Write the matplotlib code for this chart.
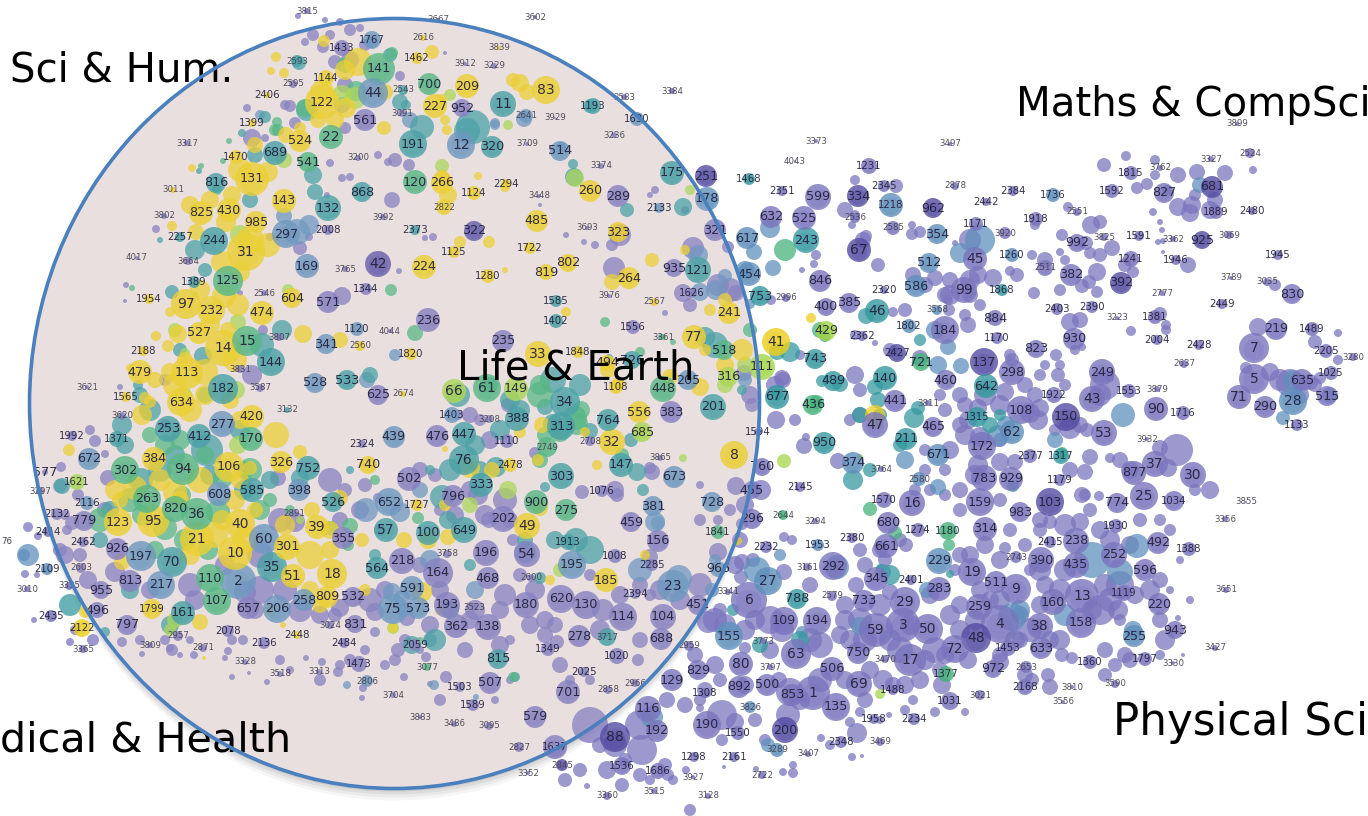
import matplotlib
matplotlib.use('Agg')
import matplotlib.pyplot as plt
from matplotlib.patches import Ellipse

# (label, x, y, radius, colour key), pixel coordinates
sci_hum = [
 (3815,307,11,3,'p'),(1767,372,40,9,'b'),(1433,342,48,8,'p'),(2616,423,38,3,'y'),(1462,417,58,6,'y'),
 (141,379,69,16,'g'),(2593,297,61,6,'t'),(1144,326,78,8,'y'),(2595,293,84,4,'p'),(2543,403,90,5,'t'),
 (700,429,84,11,'g'),(44,373,93,15,'b'),(2406,267,95,3,'y'),(122,322,102,17,'y'),(227,435,106,12,'y'),
 (3091,402,113,4,'p'),(561,365,120,11,'p'),(1399,252,123,4,'y'),(22,331,137,12,'g'),(524,300,141,11,'y'),
 (191,413,144,14,'t'),(3317,187,143,3,'p'),(689,275,153,12,'t'),(1470,236,157,7,'y'),(541,308,162,10,'g'),
 (3200,358,158,3,'p'),(131,252,179,17,'y'),(816,216,183,10,'t'),(120,415,182,12,'g'),(266,442,183,11,'y'),
 (3011,173,190,3,'y'),(868,362,192,10,'t'),(143,284,201,12,'y'),(132,328,208,13,'t'),(2822,444,207,8,'y'),
 (3802,164,216,3,'p'),(825,201,213,12,'y'),(430,229,210,12,'y'),(3992,383,217,3,'p'),(985,256,222,11,'y'),
 (2008,328,230,5,'p'),(2373,415,230,5,'t'),(2257,180,237,5,'t'),(297,286,234,14,'b'),(244,214,241,14,'t'),
 (31,246,252,19,'y'),(4017,137,258,2,'p'),(3664,188,261,4,'p'),(169,307,266,12,'b'),(3765,345,269,3,'p'),
 (42,378,264,13,'d'),(224,424,267,12,'y'),(1389,194,282,6,'t'),(125,228,281,15,'g'),(1344,366,289,6,'p'),
 (2546,264,293,3,'p'),(604,292,298,10,'y'),(571,328,302,11,'p'),(1954,149,299,5,'y'),(97,186,304,15,'y'),
 (232,211,310,14,'y'),(474,262,313,12,'y'),(236,428,320,12,'p'),(527,199,333,11,'y'),(1120,357,329,7,'b'),
 (4044,390,331,2,'p'),(3807,279,337,4,'p'),(14,223,348,18,'y'),(15,247,341,15,'g'),(341,326,344,10,'b'),
 (2560,360,346,5,'y'),(1820,411,354,6,'y'),(2188,143,351,5,'y'),(144,271,362,14,'t'),(479,140,372,12,'y'),
 (113,187,373,16,'y'),(3831,240,369,4,'p'),(182,223,389,15,'t'),(3587,260,388,4,'p'),(528,315,383,10,'b'),
 (533,347,380,10,'t'),(3621,87,387,2,'p'),(1565,126,397,5,'y'),(634,181,402,14,'y'),(625,378,395,10,'p'),
 (2674,403,394,3,'y'),
]
medical = [
 (3620,122,416,4,'p'),(3132,287,410,3,'t'),(277,222,424,13,'b'),(420,252,417,12,'y'),(253,168,429,13,'t'),
 (412,199,436,12,'t'),(1992,72,436,5,'p'),(1371,117,439,8,'t'),(170,251,439,12,'g'),(2324,362,444,4,'p'),
 (439,394,437,11,'b'),(476,437,436,11,'p'),(672,89,459,11,'b'),(384,154,459,12,'y'),(326,281,462,11,'y'),
 (752,308,468,12,'t'),(740,368,465,9,'y'),(302,125,470,14,'g'),(94,183,469,16,'g'),(106,229,467,15,'y'),
 (577,45,472,3,'p'),(1621,77,482,8,'l'),(3297,40,491,4,'p'),(608,219,494,12,'b'),(585,252,490,12,'t'),
 (398,299,490,11,'b'),(502,409,479,12,'p'),(263,147,499,14,'g'),(2116,87,503,7,'b'),(526,333,502,10,'t'),
 (652,389,502,14,'b'),(1727,417,505,6,'y'),(2132,57,514,6,'p'),(820,175,509,13,'g'),(36,197,514,16,'g'),
 (2891,294,513,4,'p'),(779,84,521,10,'p'),(123,118,522,14,'y'),(95,153,521,16,'y'),(40,240,524,15,'y'),
 (39,317,527,12,'y'),(57,386,530,12,'t'),(2414,48,532,5,'p'),(21,197,539,17,'y'),(60,264,539,15,'b'),
 (355,343,538,11,'p'),(100,428,533,12,'t'),(2462,83,542,5,'p'),(926,117,549,11,'p'),(197,141,556,15,'b'),
 (301,287,547,13,'y'),(10,235,553,17,'y'),(70,172,562,15,'t'),(3758,447,554,4,'p'),(218,402,561,13,'p'),
 (564,377,568,11,'t'),(2109,47,569,6,'b'),(2603,81,568,5,'p'),(35,272,567,15,'t'),(51,293,576,12,'y'),
 (18,332,574,15,'y'),(164,438,573,15,'p'),(813,130,581,11,'p'),(110,210,578,14,'g'),(2,238,581,18,'b'),
 (217,161,585,14,'b'),(3010,27,589,3,'p'),(3335,69,586,4,'p'),(955,101,590,9,'p'),(591,412,588,12,'b'),
 (107,217,601,14,'g'),(258,304,600,11,'b'),(809,327,597,11,'y'),(532,353,597,10,'p'),(657,248,608,11,'p'),
 (206,277,609,14,'b'),(75,393,609,15,'b'),(573,418,608,11,'b'),(193,447,605,13,'p'),(496,97,610,8,'p'),
 (1799,152,609,10,'y'),(161,183,613,12,'t'),(2435,51,616,6,'p'),(797,127,625,10,'p'),(831,355,624,9,'p'),
 (3024,330,625,4,'p'),(2122,82,628,9,'y'),(2078,228,631,6,'p'),(2957,178,636,5,'p'),(2448,297,635,4,'y'),
 (2484,344,643,5,'p'),(2136,264,643,6,'p'),(3809,150,645,3,'p'),(2871,203,648,4,'p'),(2059,415,645,6,'p'),
 (3365,83,649,4,'p'),(3328,245,662,3,'p'),(1473,359,664,8,'p'),(3077,427,667,4,'g'),(3518,280,674,3,'p'),
 (3313,319,672,3,'p'),(2806,367,681,6,'b'),(3704,393,695,3,'p'),(3883,420,717,2,'p'),
]
life_earth = [
 (3667,438,20,2,'p'),(3602,535,17,2,'p'),(3839,499,48,2,'y'),(3912,465,64,2,'p'),(3229,494,66,3,'p'),
 (209,467,86,12,'y'),(83,546,90,14,'y'),(952,462,108,9,'p'),(11,503,104,13,'t'),(1193,593,106,8,'t'),
 (3583,624,97,3,'p'),(3384,672,91,3,'p'),(2641,526,116,7,'b'),(3929,555,118,1,'p'),(1630,637,119,7,'b'),
 (12,461,145,14,'b'),(320,492,147,11,'t'),(3709,527,144,2,'p'),(3236,614,135,3,'p'),(514,560,151,10,'b'),
 (3374,601,166,3,'p'),(175,672,173,12,'t'),(251,706,176,11,'d'),(2294,506,184,5,'y'),(260,590,191,11,'y'),
 (289,618,196,11,'p'),(1124,474,193,7,'y'),(3448,539,196,2,'p'),(178,707,199,12,'b'),(2133,659,208,5,'b'),
 (485,537,221,11,'y'),(3693,587,228,2,'p'),(323,618,232,10,'y'),(322,474,231,10,'d'),(321,715,230,11,'p'),
 (1722,530,248,6,'y'),(1125,454,252,6,'y'),(802,568,263,9,'y'),(819,546,272,8,'y'),(935,674,268,9,'p'),
 (121,698,270,13,'t'),(1280,488,276,7,'y'),(264,629,278,11,'y'),(1626,692,293,5,'p'),(3976,609,296,2,'p'),
 (1585,556,301,6,'t'),(2567,654,302,4,'y'),(241,729,313,11,'y'),(1402,556,321,7,'t'),(1556,633,327,7,'p'),
 (77,694,337,12,'y'),(3361,663,337,3,'g'),(235,503,341,11,'p'),(518,724,350,10,'g'),(33,538,354,13,'y'),
 (1848,578,352,6,'y'),(726,632,360,9,'t'),(494,607,363,8,'y'),(316,728,377,10,'l'),(205,688,380,10,'b'),
 (66,454,391,12,'l'),(61,487,388,14,'g'),(149,516,389,12,'l'),(1108,616,387,7,'y'),(448,663,389,13,'g'),
 (34,565,402,15,'t'),(201,713,407,13,'t'),(1403,452,415,8,'b'),(3208,489,419,4,'p'),(388,517,419,12,'t'),
 (556,639,412,11,'y'),(383,671,412,11,'p'),(764,608,420,11,'t'),(313,561,426,14,'t'),(685,642,432,10,'l'),
 (1594,758,432,4,'p'),(447,464,434,12,'t'),(1110,507,441,7,'p'),(2749,547,447,10,'g'),(2708,590,441,5,'p'),
 (32,612,442,13,'y'),(8,734,455,14,'y'),(76,464,460,15,'t'),(2478,510,465,7,'y'),(3865,660,458,3,'p'),
 (147,621,465,12,'t'),(760,762,467,9,'p'),(303,561,476,13,'t'),(673,674,477,11,'b'),(333,481,485,12,'t'),
 (1076,602,491,6,'p'),(455,752,490,9,'p'),(796,453,496,11,'p'),(900,536,502,12,'g'),(275,566,510,11,'g'),
 (381,653,506,10,'b'),(728,712,502,10,'b'),(202,503,519,13,'p'),(49,527,526,13,'y'),(459,631,522,10,'p'),
 (649,464,530,13,'t'),(1841,718,532,7,'g'),(1913,568,542,8,'t'),(156,658,541,11,'p'),(196,486,553,13,'p'),
 (54,527,554,13,'p'),(1008,615,556,7,'p'),(195,572,565,14,'b'),(2285,652,565,6,'p'),(468,488,578,11,'p'),
 (2600,531,578,4,'p'),(185,606,580,12,'y'),(23,673,586,16,'b'),(966,718,569,8,'b'),(620,561,599,14,'p'),
 (2394,635,594,5,'p'),(180,526,605,13,'p'),(130,586,605,14,'p'),(3523,474,607,4,'p'),(451,698,605,10,'p'),
 (114,623,617,14,'p'),(104,663,617,13,'p'),(362,456,626,12,'p'),(138,488,627,13,'p'),(278,579,636,11,'p'),
 (3717,607,637,9,'t'),(688,661,639,11,'p'),(1349,548,649,7,'p'),(815,498,659,10,'t'),(1020,617,656,8,'p'),
 (2025,584,672,5,'p'),(507,490,683,11,'p'),(1503,460,687,5,'p'),(2858,608,690,4,'p'),(2966,635,683,4,'p'),
 (701,568,692,12,'p'),(1589,473,705,6,'p'),(579,535,717,11,'p'),(3486,454,724,3,'p'),(3095,489,726,4,'p'),
 (2827,519,747,5,'p'),(1637,555,747,12,'p'),
]
lower_mid = [
 (129,672,680,11,'p'),(116,648,709,13,'p'),(192,657,731,11,'p'),(88,615,737,15,'d'),(2845,562,765,6,'d'),
 (3352,528,773,2,'p'),(1536,622,766,9,'p'),(1686,658,771,8,'p'),(3515,654,791,3,'p'),(3360,607,796,4,'p'),
 (3128,708,796,3,'p'),(3927,693,777,2,'p'),(1298,694,757,5,'p'),(2161,734,757,5,'p'),(2722,762,775,4,'p'),
 (3289,777,750,7,'b'),(3407,808,754,3,'p'),(200,785,730,13,'d'),(1550,738,733,7,'p'),(190,707,725,14,'p'),
 (3826,750,707,6,'b'),(1308,705,693,5,'p'),(892,739,687,11,'p'),(500,767,685,11,'p'),(853,792,695,11,'p'),
 (1,813,693,17,'p'),(135,836,707,14,'p'),(829,698,670,10,'p'),(80,741,664,12,'p'),(3797,770,667,3,'p'),
 (506,832,669,12,'p'),(2959,689,646,5,'p'),(155,729,636,14,'b'),(3773,763,641,3,'p'),(63,796,654,15,'p'),
 (109,784,621,14,'p'),(194,817,621,14,'p'),(6,749,600,18,'p'),(788,797,599,10,'t'),(27,768,581,14,'b'),
 (3341,728,592,3,'p'),(2232,766,547,6,'p'),(3161,807,567,4,'p'),(292,833,566,14,'p'),(2145,800,487,5,'p'),
 (296,752,519,10,'p'),(2644,783,515,5,'g'),(950,824,443,11,'t'),(677,777,397,12,'t'),(111,762,367,13,'l'),
 (41,776,342,14,'y'),(2996,786,298,4,'p'),(753,760,296,10,'t'),(454,749,274,12,'b'),(617,747,238,11,'b'),
 (632,771,217,11,'p'),(2351,782,191,5,'p'),(1468,749,179,6,'t'),
]
maths = [
 (3373,816,141,2,'p'),(4043,795,161,1,'p'),(3497,950,144,2,'p'),(3899,1237,124,2,'p'),(2524,1250,153,5,'p'),
 (3327,1211,159,3,'p'),(1231,869,166,8,'p'),(3762,1160,168,3,'p'),(1815,1131,173,7,'p'),(2345,884,186,6,'p'),
 (2878,955,186,4,'p'),(681,1212,187,11,'d'),(2384,1013,191,5,'p'),(1736,1053,195,7,'b'),(1592,1112,191,7,'p'),
 (827,1164,193,10,'p'),(599,818,197,13,'p'),(334,858,196,11,'d'),(2442,986,202,4,'p'),(1218,891,205,12,'b'),
 (962,933,208,10,'d'),(2551,1077,212,4,'p'),(1889,1216,212,7,'p'),(2480,1252,211,4,'p'),(525,804,218,12,'p'),
 (2536,855,218,5,'p'),(2585,893,228,7,'p'),(1918,1036,219,7,'p'),(1171,976,224,7,'p'),(354,937,234,10,'b'),
 (243,806,240,13,'t'),(3825,1104,237,4,'p'),(1591,1139,236,5,'p'),(3920,1005,233,6,'p'),(3362,1173,239,3,'p'),
 (925,1202,240,9,'d'),(3069,1229,235,4,'p'),(992,1077,243,9,'p'),(67,859,250,12,'d'),(1260,1012,255,7,'b'),
 (1945,1278,255,5,'p'),(1241,1131,259,8,'p'),(1946,1176,260,5,'p'),(45,975,259,12,'p'),(512,929,263,10,'b'),
 (2511,1045,268,8,'p'),(382,1071,275,11,'p'),(3789,1231,278,2,'p'),(846,820,281,11,'p'),(392,1121,283,11,'d'),
 (3035,1267,282,4,'p'),(586,916,286,11,'b'),(99,964,290,13,'p'),(2320,884,290,4,'p'),(1868,1002,290,6,'t'),
 (2777,1162,293,3,'p'),(830,1292,294,10,'p'),(2449,1222,304,5,'p'),(2403,1057,309,6,'p'),(2390,1092,307,6,'p'),
 (385,849,303,10,'p'),(400,826,307,9,'p'),(46,877,311,12,'t'),(3568,937,310,5,'b'),(3223,1117,318,2,'p'),
 (1381,1155,317,7,'p'),(884,995,318,8,'p'),(219,1276,329,11,'p'),(1489,1312,329,7,'p'),(1802,909,326,7,'b'),
 (184,945,330,14,'p'),(429,826,331,10,'l'),(2362,862,336,5,'p'),(1170,997,338,6,'p'),(930,1074,339,11,'p'),
 (2004,1157,340,5,'p'),(2428,1199,345,5,'p'),(7,1254,348,15,'p'),(823,1036,349,9,'p'),(2427,897,353,9,'d'),
 (137,984,362,14,'d'),(2637,1184,364,4,'p'),(2205,1326,351,7,'p'),(3280,1353,357,4,'p'),(721,921,362,9,'g'),
 (743,815,359,10,'t'),(298,1012,372,13,'p'),(249,1102,372,13,'p'),(1025,1331,373,7,'p'),(140,885,378,12,'t'),
 (5,1254,379,15,'p'),(635,1302,380,11,'p'),(489,833,381,10,'t'),(460,946,380,10,'p'),(642,986,386,12,'t'),
 (1553,1129,391,7,'p'),(3879,1157,389,3,'p'),(1922,1054,395,8,'p'),(71,1239,397,12,'p'),(515,1327,396,10,'p'),
 (43,1092,399,13,'p'),(28,1293,401,14,'b'),(441,895,401,11,'p'),(3811,928,403,3,'p'),(436,813,405,10,'g'),
 (290,1265,407,11,'p'),(90,1156,409,12,'p'),(108,1021,410,14,'p'),(1716,1183,413,7,'p'),(1315,977,417,10,'t'),
 (150,1066,417,14,'d'),(47,875,425,13,'p'),(1133,1297,425,6,'p'),(465,933,427,10,'p'),(62,1012,432,12,'b'),
 (53,1104,433,13,'p'),
]
physical = [
 (211,906,439,11,'t'),(172,982,446,14,'p'),(3932,1147,439,2,'p'),(671,938,455,11,'b'),(2377,1030,456,7,'p'),
 (1317,1061,456,8,'t'),(37,1155,464,13,'p'),(374,853,463,11,'b'),(3764,881,469,3,'p'),(30,1193,475,13,'p'),
 (877,1134,473,12,'p'),(783,984,478,13,'p'),(929,1011,479,12,'p'),(2580,919,479,7,'b'),(1179,1060,480,6,'p'),
 (25,1144,496,14,'p'),(1034,1174,501,10,'p'),(3855,1246,502,1,'p'),(1570,884,500,8,'p'),(16,912,503,13,'p'),
 (159,980,502,14,'p'),(103,1050,502,14,'d'),(774,1117,503,10,'p'),(983,1020,512,10,'p'),(3294,815,521,3,'p'),
 (3356,1225,519,3,'p'),(680,888,523,11,'p'),(1274,918,530,7,'p'),(1180,948,531,9,'g'),(314,985,529,12,'p'),
 (1930,1116,526,7,'p'),(2380,852,538,5,'p'),(661,886,546,12,'p'),(1953,818,545,6,'b'),(2415,1050,542,6,'p'),
 (238,1076,541,13,'p'),(492,1158,543,11,'p'),(1388,1189,549,7,'p'),(252,1114,555,13,'p'),(390,1041,560,13,'p'),
 (2743,1016,557,6,'p'),(229,939,561,13,'b'),(435,1076,565,13,'p'),(596,1145,570,11,'p'),(19,972,572,14,'p'),
 (2401,911,580,5,'p'),(345,876,579,12,'p'),(511,996,582,11,'p'),(9,1016,589,15,'p'),(283,939,589,12,'p'),
 (1119,1124,593,8,'p'),(3651,1226,590,3,'p'),(13,1082,596,17,'p'),(2579,832,596,5,'p'),(160,1053,602,13,'p'),
 (29,905,602,15,'p'),(733,864,601,11,'p'),(220,1159,604,11,'p'),(259,979,607,13,'p'),(3,903,625,17,'p'),
 (4,1000,624,19,'p'),(158,1081,623,15,'p'),(38,1040,626,13,'p'),(59,876,630,17,'p'),(50,928,629,15,'p'),
 (943,1175,630,9,'p'),(255,1134,636,11,'b'),(48,976,638,15,'d'),(3427,1215,648,3,'p'),(1453,1008,648,8,'p'),
 (633,1041,648,11,'p'),(72,955,649,14,'p'),(750,858,653,11,'p'),(1797,1145,659,7,'p'),(3470,885,659,4,'p'),
 (17,910,660,16,'p'),(1360,1090,662,7,'p'),(3330,1173,663,2,'p'),(972,993,669,9,'p'),(2653,1026,667,6,'p'),
 (1377,946,674,8,'g'),(69,859,684,13,'p'),(3590,1115,684,4,'p'),(2168,1025,687,8,'p'),(3810,1072,687,2,'p'),
 (1488,893,690,5,'p'),(3021,980,695,5,'p'),(3556,1063,702,2,'p'),(1031,950,701,9,'p'),(1958,874,719,5,'p'),
 (2234,914,719,6,'p'),(2348,841,742,6,'p'),(3469,880,742,4,'p'),
]

# bubbles without a number, (x, y, radius)
extra_yellow = [
 (276,57,5),(271,71,4),(284,73,5),(324,41,6),(358,62,14),(345,70,10),(432,52,7),(322,92,12),(335,120,9),
 (318,120,8),(384,128,7),(346,108,10),(385,92,8),(300,128,6),(255,145,8),(286,135,8),(192,168,4),(240,170,12),
 (268,172,10),(232,195,9),(190,205,9),(210,200,9),(172,226,5),(196,232,8),(226,222,10),(250,240,14),(268,245,12),
 (222,262,11),(240,272,10),(200,290,10),(224,296,12),(238,305,11),(170,312,5),(178,334,9),(156,336,5),(168,346,6),
 (210,325,10),(228,330,8),(303,334,9),(340,340,8),(185,360,8),(170,372,9),(205,372,13),(235,360,12),(130,368,4),
 (155,380,8),(205,395,10),(230,400,9),(145,398,6),(175,385,12),(142,415,10),(150,402,6),(190,410,12),(240,420,9),
 (276,435,13),(69,450,6),(300,452,7),(200,480,13),(240,480,9),(250,468,7),(160,480,11),(115,490,10),(135,488,12),
 (175,492,12),(120,500,8),(340,498,8),(235,500,10),(255,510,8),(180,500,9),(215,535,13),(190,555,10),(222,520,10),
 (245,540,13),(285,525,10),(312,510,8),(330,530,9),(310,555,14),(330,550,9),(122,562,8),(362,540,7),(310,590,9),
 (320,605,8),(365,590,6),(404,540,8),(428,540,9),(422,592,10),(393,628,5),(85,612,6),(200,622,8),(448,537,8),
 (204,658,2),(283,625,3),(520,83,9),(513,80,7),(527,92,8),(447,130,5),(478,176,4),(448,195,9),(505,187,5),
 (489,242,6),(460,242,6),(505,270,3),(652,260,7),(612,282,8),(685,250,5),(710,310,6),(725,300,7),(566,312,5),
 (705,350,6),(742,350,11),(700,387,9),(618,384,7),(670,377,8),(538,460,6),(585,432,5),(520,432,6),(542,425,8),
 (445,449,3),(540,508,8),(597,465,5),(470,468,10),(492,470,8),(441,100,6),(445,505,6),(550,580,5),(645,555,5),
 (738,541,4),(442,178,8),(445,120,5),(670,375,3),(608,370,8),(725,365,9),(875,415,10),(811,318,5),
]
extra_lime = [
 (450,95,6),(441,104,6),(342,95,10),(355,98,11),(442,166,7),(284,160,8),(288,290,6),(240,235,10),(175,330,7),
 (185,353,5),(238,322,8),(238,445,9),(184,395,8),(236,390,9),(300,520,4),(270,610,6),(175,620,8),(170,630,6),
 (508,125,5),(575,178,9),(690,190,5),(725,385,8),(745,365,8),(508,490,9),(560,570,7),(642,432,7),(683,458,4),
 (784,461,7),(860,457,3),(440,610,5),(470,505,8),(393,628,6),(880,694,5),(877,424,5),
]
extra_green = [
 (392,53,6),(356,91,10),(345,65,8),(305,108,9),(277,122,5),(229,141,3),(201,166,3),(223,161,3),(275,130,6),
 (217,190,5),(391,290,6),(415,333,8),(278,130,6),(195,295,3),(132,288,3),(205,395,8),(150,435,8),(180,440,10),
 (205,455,9),(165,445,10),(250,470,12),(270,500,7),(223,478,10),(182,495,9),(130,500,12),(100,520,12),(142,515,10),
 (218,512,12),(260,510,10),(165,528,12),(155,550,9),(185,540,11),(208,550,10),(245,470,9),(290,510,5),(350,526,8),
 (330,528,7),(348,545,6),(420,641,4),(375,480,5),(418,518,6),(605,322,5),(640,352,5),(673,342,3),
 (581,410,9),(575,418,12),(540,395,13),(540,460,8),(513,677,5),(750,330,7),(785,250,11),(540,385,10),(820,330,8),
 (870,509,7),(895,533,7),(949,545,6),(817,402,7),(1062,453,6),(622,455,7),(577,424,11),(560,432,10),(545,435,8),
]
extra_teal = [
 (299,63,7),(390,55,7),(307,110,11),(400,102,8),(422,127,12),(406,105,5),(265,117,6),(242,133,4),(255,155,8),
 (313,175,9),(315,192,8),(199,171,3),(160,240,3),(195,250,10),(172,292,7),(205,270,7),(250,200,8),(282,330,10),
 (138,385,5),(262,345,12),(370,375,8),(203,356,9),(180,350,7),(140,395,8),(122,425,10),(150,410,11),
 (125,445,9),(207,450,16),(160,470,12),(240,430,10),(210,475,10),(175,455,10),(141,480,12),(244,490,10),(270,480,9),
 (62,486,8),(300,478,9),(110,510,9),(100,540,8),(70,605,11),(105,632,5),(130,590,9),(350,470,4),(170,625,9),
 (412,645,9),(435,640,11),(450,610,9),(375,555,6),(442,497,12),(450,470,11),(475,445,10),(448,520,9),(480,470,9),
 (496,467,10),(510,400,10),(458,395,12),(490,385,8),(553,380,13),(580,385,11),(590,431,8),(545,407,8),(553,424,10),
 (500,430,10),(520,410,10),(631,440,7),(637,472,9),(643,490,6),(555,540,9),(590,550,14),(525,540,8),
 (540,578,6),(470,565,6),(430,470,5),(576,540,12),(467,131,13),(473,127,17),(590,106,7),(561,147,5),(573,164,5),
 (574,177,9),(627,210,7),(683,207,9),(661,337,3),(609,358,4),(705,337,10),(715,345,13),(777,352,8),(790,352,10),
 (777,395,6),(840,384,8),(822,381,6),(866,316,8),(825,336,6),(853,480,10),(878,400,8),(875,387,8),(880,415,7),
 (870,470,7),(900,445,7),(880,568,4),(890,575,10),(950,574,4),(1013,486,6),(515,677,5),
 (760,645,8),(800,640,9),(733,610,6),(990,425,8),(1000,415,6),(860,415,8),
 (914,418,10),(918,408,7),(920,340,6),(545,487,5),(742,390,5),
]
extra_blue = [
 (372,42,6),(410,120,8),(495,123,5),(342,105,8),(260,115,5),(284,216,8),(297,232,13),(309,225,10),
 (395,355,6),(24,555,6),(28,555,11),(60,486,7),(367,380,8),(366,510,12),(400,512,10),(420,490,8),
 (430,560,10),(475,590,9),(525,552,11),(640,570,12),(679,578,13),(655,522,10),
 (658,523,7),(495,125,5),(524,119,8),(698,255,10),(700,292,9),(716,290,10),(725,276,7),
 (745,270,9),(754,252,8),(770,228,10),(750,304,5),(773,268,8),(745,380,7),(757,570,13),
 (780,555,6),(802,632,6),(837,567,12),(905,460,9),(948,347,8),(960,253,10),(980,240,15),
 (935,330,9),(938,365,9),(961,366,8),(1123,415,12),(1283,418,7),(1200,185,8),
 (1065,615,11),(1133,630,9),(1137,546,12),(1092,560,18),(1120,572,13),(1012,617,14),(1020,610,10),
 (860,626,9),(927,590,8),(1055,440,8),(998,436,11),(1006,425,9),(652,717,11),(938,487,8),
 (883,572,8),(712,590,7),(715,560,6),(768,745,7),
 (430,640,7),(392,592,9),(402,598,8),(404,610,7),(347,685,4),
 (434,685,5),(476,697,3),(1293,380,10),(1330,395,8),
]
extra_purple = [
 (298,16,3),(325,20,3),(340,22,4),(350,30,6),(360,28,4),(313,35,6),(330,35,5),(305,42,4),(323,47,6),(350,60,9),
 (335,62,7),(365,45,6),(345,85,8),(400,76,5),(445,53,2),(285,105,5),(290,106,6),(247,108,4),(265,138,4),(252,138,9),
 (295,123,6),(345,128,6),(330,163,4),(378,155,4),(395,160,7),(388,162,4),(409,165,6),(350,177,4),(392,200,8),
 (342,178,4),(327,195,3),(156,229,4),(309,237,4),(270,237,4),(300,248,7),(399,271,3),(425,238,3),(433,237,4),
 (240,293,3),(342,296,9),(126,285,3),(125,301,2),(263,330,5),(252,375,10),(165,380,6),(165,425,6),(120,387,3),
 (90,430,5),(95,441,6),(61,467,5),(105,454,4),(78,495,6),(65,515,5),(28,527,5),(67,530,5),
 (72,523,7),(105,510,8),(108,478,8),(38,536,4),(25,574,4),(37,575,3),(60,550,7),(65,555,9),(80,555,7),(88,580,9),
 (115,572,10),(150,590,9),(195,600,10),(190,585,12),(225,565,10),(280,520,12),(295,522,10),(340,520,8),(330,480,12),
 (278,478,8),(260,555,13),(260,590,14),(245,592,11),(285,590,12),(255,610,9),(300,610,12),(320,615,9),(335,615,7),
 (340,608,9),(370,600,12),(385,590,9),(375,612,9),(407,618,8),(430,625,9),(465,650,8),(475,610,10),(505,595,11),
 (500,610,9),(535,590,10),(545,620,9),(603,610,11),(600,630,10),(640,640,8),(555,625,8),(530,625,9),(520,575,7),
 (75,630,5),(93,640,6),(70,642,4),(34,620,3),(122,642,5),(140,640,5),(165,640,5),(172,650,6),(190,640,4),(194,655,4),
 (142,654,3),(180,655,3),(170,648,4),(225,658,3),(228,651,4),(232,640,5),(243,640,5),(280,660,5),(290,670,4),
 (232,677,3),(249,673,2),(267,682,3),(322,662,4),(340,665,5),(306,658,3),(338,672,5),(320,680,6),(350,660,6),
 (365,650,5),(375,632,5),(395,660,6),(385,665,5),(405,640,6),(398,650,7),(420,650,4),(426,657,5),(404,677,4),
 (446,677,6),(430,684,3),(440,700,6),(363,688,4),(362,698,3),(500,645,9),(510,640,5),(510,680,4),(495,700,4),
 (545,635,8),(560,665,8),(557,642,7),(570,680,5),(590,680,5),(638,660,6),(440,590,9),
 (470,620,9),(420,565,8),(380,530,6),(360,510,9),(345,490,7),(365,485,7),(378,498,5),(420,470,8),(435,475,7),
 (470,490,9),(440,510,6),(455,515,9),(478,495,10),(485,515,10),(505,500,12),(510,520,8),(489,520,8),(513,540,6),
 (535,453,6),(582,492,7),(617,495,7),(615,490,9),(650,468,6),(652,472,8),
 (700,485,4),(730,510,6),(718,520,5),(700,520,6),(718,552,9),(650,557,8),(700,585,12),(715,620,12),
 (708,622,11),(680,600,10),(660,590,10),(640,585,8),(650,595,6),(620,595,9),(590,575,6),(490,440,9),(470,415,8),
 (480,420,6),(508,405,7),(458,415,5),(685,210,4),(655,190,4),(650,195,3),(693,248,11),(620,235,11),
 (612,245,6),(595,245,4),(584,242,3),(566,235,3),(540,205,2),(614,268,11),(665,313,3),(683,293,9),
 (690,305,7),(718,285,11),(736,293,8),(730,290,12),(728,247,6),(771,300,5),(744,373,8),
 (750,395,9),(752,405,7),(775,385,9),(782,378,8),(800,355,5),(783,380,8),(776,420,9),(795,420,6),(804,446,8),
 (838,461,8),(806,437,4),(761,490,10),(736,486,9),(745,505,9),(740,540,8),(742,524,6),(784,537,5),(792,540,5),
 (742,562,8),(735,565,9),(741,577,7),(753,560,7),(784,572,8),(810,585,8),(755,620,10),(720,610,7),(745,630,10),
 (725,625,11),(745,648,6),(782,630,12),(810,640,12),(770,620,14),(820,645,13),(840,635,9),(845,620,10),(770,650,9),
 (715,665,9),(695,655,8),(705,690,8),(720,680,7),(745,685,9),(779,680,8),(790,692,14),(800,700,10),(820,680,12),
 (788,715,12),(755,720,7),(735,722,9),(722,740,6),(722,715,15),(700,700,6),(685,705,8),(667,700,8),
 (700,708,4),(640,725,15),(590,725,18),(615,745,12),(642,750,15),(600,745,8),(607,770,9),
 (625,760,7),(640,775,7),(650,780,5),(665,765,7),(668,775,6),(673,780,5),(622,785,7),(580,770,7),(565,780,7),
 (587,786,3),(690,810,6),(756,769,3),(724,767,2),(686,770,4),(783,772,4),(793,765,4),(793,773,5),(765,740,6),
 (845,680,9),(865,700,8),(850,722,5),(860,712,5),(857,733,10),(889,715,3),(830,745,5),(821,738,4),(852,757,4),
 (862,756,2),(880,720,4),(905,710,5),(913,700,5),(935,712,5),(965,712,4),(893,685,8),(920,680,9),(883,680,10),
 (870,670,9),(942,685,9),(945,655,9),(968,660,9),(1000,655,8),(1020,640,8),(1030,630,12),(1015,640,10),(1050,640,9),
 (1062,655,7),(1072,658,6),(1105,650,8),(1115,665,7),(1105,675,7),(1048,675,7),(1050,687,8),
 (1032,680,7),(1025,675,8),(1000,662,9),(1125,655,8),(1130,660,8),(1160,655,5),(1183,655,2),(1120,620,6),(1118,610,10),
 (1135,595,9),(1120,585,14),(1105,585,11),(1100,610,15),(1110,600,12),(1060,590,11),(1065,570,11),(1045,585,9),
 (1040,570,11),(1092,610,10),(1060,640,10),(1190,600,4),(1170,590,4),(1178,618,3),
 (1160,620,8),(1165,640,10),(1180,560,4),(1160,520,6),(1140,520,7),(1170,530,6),(1100,530,9),(1110,540,10),
 (1130,545,9),(1150,590,10),(1160,580,8),(1090,510,7),(1080,522,9),(1065,525,11),(1050,522,7),(1040,520,8),
 (1085,495,6),(1099,496,5),(1082,495,8),(1085,472,8),(1070,470,8),(1090,457,8),(1130,470,9),
 (1120,460,8),(1110,458,5),(1210,490,9),(1195,490,6),(1160,448,8),(1177,450,16),(1168,468,9),(1000,500,7),
 (1010,530,7),(1040,530,7),(1005,548,6),(970,555,9),(985,545,9),(1000,560,9),(960,555,8),(955,570,6),(1025,545,7),
 (1030,570,6),(980,590,9),(990,600,9),(960,605,9),(950,615,10),(960,630,10),(975,620,10),(1000,600,10),(1020,615,9),
 (1040,605,9),(890,592,8),(880,605,11),(860,620,12),(890,640,11),(850,640,10),(865,640,12),(910,625,10),(935,650,13),
 (925,660,10),(940,670,8),(905,685,9),(900,650,13),(845,605,9),(856,585,8),(880,550,8),(885,560,7),(860,550,7),
 (865,565,8),(900,540,7),(906,545,7),(930,595,9),(960,510,7),(960,490,8),(945,495,6),(930,490,6),(915,490,6),
 (975,475,10),(978,465,10),(1000,462,9),(1015,462,8),(1000,440,7),(965,435,10),(950,450,9),(945,470,6),(925,470,6),
 (925,450,6),(978,408,9),(1000,405,10),(1005,392,9),(985,395,11),(965,405,8),(968,420,9),(960,425,8),(980,437,10),
 (1025,385,8),(1040,375,6),(1035,395,8),(1030,413,10),(1038,420,10),(1055,430,6),(1070,428,11),(1080,425,8),(1087,430,7),
 (1065,385,6),(1010,355,6),(1012,360,7),(1045,365,5),(1060,365,5),(1056,355,6),(1058,375,7),(1080,320,8),(1070,322,9),
 (1075,350,5),(1082,347,4),(1105,385,15),(1110,378,4),(1131,331,5),(1160,314,7),(1166,325,5),
 (1188,265,8),(1133,272,6),(1125,265,7),(1097,292,6),(1097,272,9),(1089,282,7),(1082,286,7),(1060,290,6),(1100,255,7),
 (1090,253,6),(1086,243,7),(1112,248,8),(1062,235,6),(1068,207,5),(1091,225,9),(1100,222,7),(1032,255,5),
 (1034,293,6),(1017,275,7),(1010,271,5),(993,278,9),(978,275,9),(970,240,11),(1035,225,5),(1045,260,8),
 (1065,260,5),(1060,252,4),(1104,165,7),(1126,156,5),(1155,160,5),(1137,188,6),(1147,184,6),
 (1167,190,5),(1155,175,5),(1178,175,8),(1197,172,8),(1225,173,8),(1192,205,9),(1190,213,9),(1178,207,9),(1195,195,6),
 (1210,210,9),(1215,200,8),(1253,170,4),(1153,212,4),(1160,222,3),(1162,230,3),(1163,241,3),(1158,242,3),(1163,252,2),
 (1275,285,6),(1258,327,9),(1315,342,7),(1338,333,4),(1338,360,5),
 (1246,368,6),(1270,372,9),(1290,383,14),(1280,380,11),(1300,395,9),(1310,382,8),(1320,378,6),(1315,385,7),
 (1166,330,5),(1100,395,11),(1040,408,9),(960,395,8),(940,395,6),
 (945,410,7),(905,310,7),(893,312,5),(925,285,8),(913,275,8),
 (863,240,8),(878,265,7),(816,255,5),(814,264,4),(802,270,3),(852,225,4),(866,236,6),(845,210,8),
 (855,215,5),(896,186,7),(855,180,5),(912,234,6),(912,225,4),
 (920,232,6),(955,243,3),(970,280,10),(950,280,8),(935,278,8),(950,295,10),(945,295,8),(970,295,8),
 (980,305,6),(965,315,6),(968,325,8),(949,310,6),(948,300,5),(855,335,5),(875,343,3),(890,350,7),
 (920,358,8),(855,375,9),(860,390,7),(860,415,8),(850,420,6),
]

names = ['y', 'l', 'g', 't', 'b', 'p', 'd']
colours = ['#ecce1e', '#a4d648', '#45b27a', '#35999f', '#5f8fbc', '#7a75bd', '#544ca3']
col = dict(zip(names, colours))

labelled = sci_hum + medical + life_earth + lower_mid + maths + physical


def area(r):
    return (2 * r * 0.72) ** 2


def label_size(n):
    if n < 100:
        return 10
    if n < 1000:
        return 9.2
    if n < 2500:
        return 7.3
    return 6.2


fig = plt.figure(figsize=(13.68, 8.16), dpi=100)
ax = fig.add_axes([0, 0, 1, 1])
ax.set_xlim(0, 1368)
ax.set_ylim(816, 0)
ax.axis('off')

# soft shadow under the circle, then its fill
for off, a in [(12, 0.05), (9, 0.07), (6, 0.09), (3, 0.12)]:
    ax.add_patch(Ellipse((394.5, 403.5 + off), 730, 770, fc='#555555', ec='none', alpha=a, zorder=1))
ax.add_patch(Ellipse((394.5, 403.5), 730, 770, fc='#e9dfdf', ec='none', zorder=2))

for pts, key in [(extra_purple, 'p'), (extra_blue, 'b'), (extra_teal, 't'), (extra_green, 'g'),
                 (extra_lime, 'l'), (extra_yellow, 'y')]:
    ax.scatter([p[0] for p in pts], [p[1] for p in pts], s=[area(p[2]) for p in pts],
               color=col[key], alpha=0.74, linewidths=0, zorder=3)

ordered = sorted(labelled, key=lambda r: -r[3])
ax.scatter([r[1] for r in ordered], [r[2] for r in ordered], s=[area(r[3]) for r in ordered],
           color=[col[r[4]] for r in ordered], alpha=0.8, linewidths=0, zorder=4)
# darker core gives the numbered bubbles their rounded look
ax.scatter([r[1] for r in ordered], [r[2] + r[3] * 0.12 for r in ordered],
           s=[area(r[3] * 0.7) for r in ordered],
           color=[col[r[4]] for r in ordered], alpha=0.3, linewidths=0, zorder=4)

# slight veil so the bubbles under the circle take the pink tone
ax.add_patch(Ellipse((394.5, 403.5), 730, 770, fc='#e9dfdf', ec='none', alpha=0.12, zorder=5))

for n, x, y, r, c in labelled:
    ax.text(x, y, str(n), ha='center', va='center', fontsize=label_size(n),
            color='#24213a' if n < 2500 else '#45414e', alpha=0.92, zorder=6)
# only the tail of this number is inside the picture
ax.text(1, 541, '76', ha='left', va='center', fontsize=6.2, color='#45414e', zorder=6)

ax.text(10, 70, 'Sci & Hum.', fontsize=29, va='center', color='black', zorder=7)
ax.text(0, 740, 'dical & Health', fontsize=29.7, va='center', color='black', zorder=7)
ax.text(1016, 105, 'Maths & CompSci', fontsize=29, va='center', color='black', zorder=7)
ax.text(1113, 722, 'Physical Sci', fontsize=31.4, va='center', color='black', zorder=7)
ax.text(457, 368, 'Life & Earth', fontsize=29, va='center', color='black', zorder=7)

ax.add_patch(Ellipse((394.5, 403.5), 730, 770, fc='none', ec='#4a80bd', lw=2.6, zorder=8))

fig.savefig('out.png', dpi=100)
